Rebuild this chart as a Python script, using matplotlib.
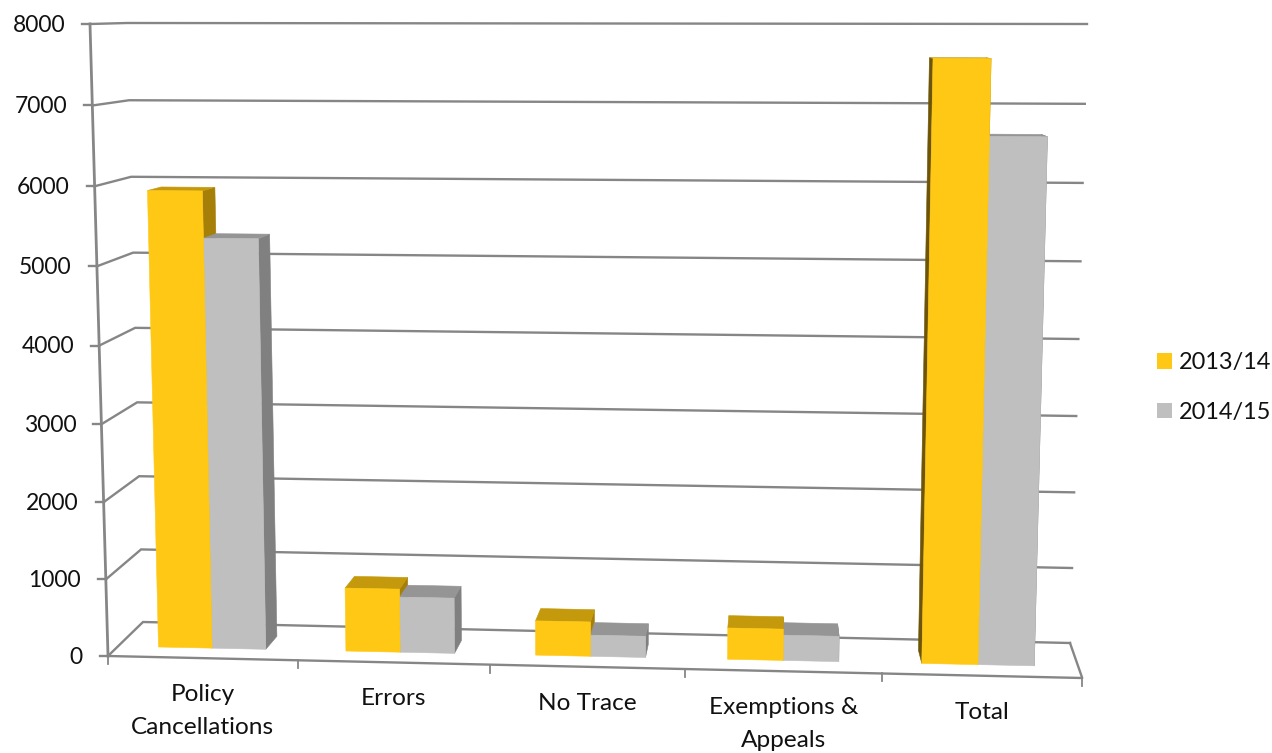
import matplotlib
matplotlib.use("Agg")
import matplotlib.pyplot as plt
from matplotlib.patches import Patch, Polygon

categories = ["Policy\nCancellations", "Errors", "No Trace", "Exemptions &\nAppeals", "Total"]
series_names = ["2013/14", "2014/15"]
values_2013 = [5800, 795, 430, 390, 7510]
values_2014 = [5200, 695, 265, 315, 6545]
y_ticks = [0, 1000, 2000, 3000, 4000, 5000, 6000, 7000, 8000]

YEL, YEL_TOP, YEL_SIDE, YEL_LEFT = "#FFC815", "#C49A0C", "#A67F08", "#6E5406"
GRY, GRY_TOP, GRY_SIDE = "#BFBFBF", "#959595", "#808080"
LINE = "#868686"
TXT = "#111111"
FONT = "Lato"
VMAX = 8000.0

fig = plt.figure(figsize=(12.72, 7.53), dpi=100)
ax = fig.add_axes([0, 0, 1, 1])
ax.set_xlim(0, 1272)
ax.set_ylim(753, 0)
ax.axis("off")


# ---- hand-made perspective of the 3-D column chart ----
def frac(v):
    t = v / VMAX
    return t * (1 - 0.035) / (1 - 0.035 * t)


def lerp(a, b, t):
    return a + (b - a) * t


def front_left(v):
    t = frac(v)
    return lerp(108, 90, t), lerp(656, 24, t)


def back_left(v):
    t = frac(v)
    return lerp(143, 127, t), lerp(622, 23, t)


def back_right(v):
    t = frac(v)
    return lerp(1070, 1087, t), lerp(643, 24, t)


def axis_x(u):
    return 108 + 188.5 * u + 1.27 * u * u


def axis_y(x):
    return 656 + (x - 108) * 22.0 / 974


def bar_x(u):
    return 158.5 + 186.3 * u + 1.13 * u * u


def bar_pt(u, v, depth=0.0):
    x0 = bar_x(u)
    y0 = 647 + (x0 - 159) * 0.0215
    h = v * (630 + (x0 - 180) * 15.0 / 770) / VMAX
    x = 590 + (x0 - 590) * (1 + 5.6e-5 * h)
    y = y0 - h
    x += (770 - x) * 0.022 * depth
    y -= 13 * (1 - v / VMAX) * depth
    return x, y


def poly(pts, color, z):
    ax.add_patch(Polygon(pts, closed=True, facecolor=color, edgecolor=color,
                         linewidth=0.4, zorder=z))


# walls / gridlines
for v in y_ticks:
    fx, fy = front_left(v)
    bx, by = back_left(v)
    rx, ry = back_right(v)
    ax.plot([fx - 8, fx], [fy, fy], color=LINE, lw=1.7, zorder=1)
    ax.plot([fx, bx, rx], [fy, by, ry], color=LINE, lw=1.7, zorder=1,
            solid_joinstyle="miter")
    ax.text(fx - 25, fy + 1, str(v), ha="right", va="center", fontsize=16.5,
            family=FONT, color=TXT)

p0, p1 = front_left(0), front_left(VMAX)
ax.plot([p0[0], p1[0]], [p0[1], p1[1]], color=LINE, lw=2.0, zorder=1)

# floor
n = len(categories)
rb = back_right(0)
front_end = (axis_x(n), axis_y(axis_x(n)))
ax.plot([p0[0], front_end[0], rb[0]], [p0[1], front_end[1], rb[1]], color=LINE, lw=1.7, zorder=1)
for i in range(n + 1):
    x = axis_x(i)
    y = axis_y(x)
    ax.plot([x, x], [y, y + 8], color=LINE, lw=1.3, zorder=1)

# columns
W = 0.287
for i, (a, b) in enumerate(zip(values_2013, values_2014)):
    u0, u1, u2 = i, i + W, i + 2 * W
    # yellow right side
    poly([bar_pt(u1, a), bar_pt(u1, a, 1), bar_pt(u1, 0, 1), bar_pt(u1, 0)], YEL_SIDE, 3)
    # grey right side
    poly([bar_pt(u2, b), bar_pt(u2, b, 1), bar_pt(u2, 0, 1), bar_pt(u2, 0)], GRY_SIDE, 3.1)
    # yellow left side (only visible right of the vanishing point)
    if bar_pt(u0, a, 1)[0] < bar_pt(u0, a)[0]:
        poly([bar_pt(u0, a), bar_pt(u0, a, 1), bar_pt(u0, 0, 1), bar_pt(u0, 0)], YEL_LEFT, 3.2)
    # tops
    poly([bar_pt(u1, b), bar_pt(u1, b, 1), bar_pt(u2, b, 1), bar_pt(u2, b)], GRY_TOP, 3.3)
    poly([bar_pt(u0, a), bar_pt(u0, a, 1), bar_pt(u1, a, 1), bar_pt(u1, a)], YEL_TOP, 3.4)
    # fronts
    poly([bar_pt(u1, b), bar_pt(u2, b), bar_pt(u2, 0), bar_pt(u1, 0)], GRY, 3.5)
    poly([bar_pt(u0, a), bar_pt(u1, a), bar_pt(u1, 0), bar_pt(u0, 0)], YEL, 3.6)

# category labels
for i, name in enumerate(categories):
    x = (axis_x(i) + axis_x(i + 1)) / 2
    ax.text(x, axis_y(x) + 26, name, ha="center", va="top", fontsize=17.6,
            family=FONT, color=TXT, linespacing=1.68, multialignment="center")

# legend
handles = [Patch(facecolor=YEL, edgecolor="none", label=series_names[0]),
           Patch(facecolor=GRY, edgecolor="none", label=series_names[1])]
ax.legend(handles=handles, loc="center left", bbox_to_anchor=(1157, 387.5),
          bbox_transform=ax.transData, frameon=False, handlelength=0.64, handleheight=0.64,
          handletextpad=0.3, labelspacing=1.2, borderpad=0, borderaxespad=0,
          labelcolor=TXT, prop={"family": FONT, "size": 16.9})

fig.savefig("out.png", dpi=100)
